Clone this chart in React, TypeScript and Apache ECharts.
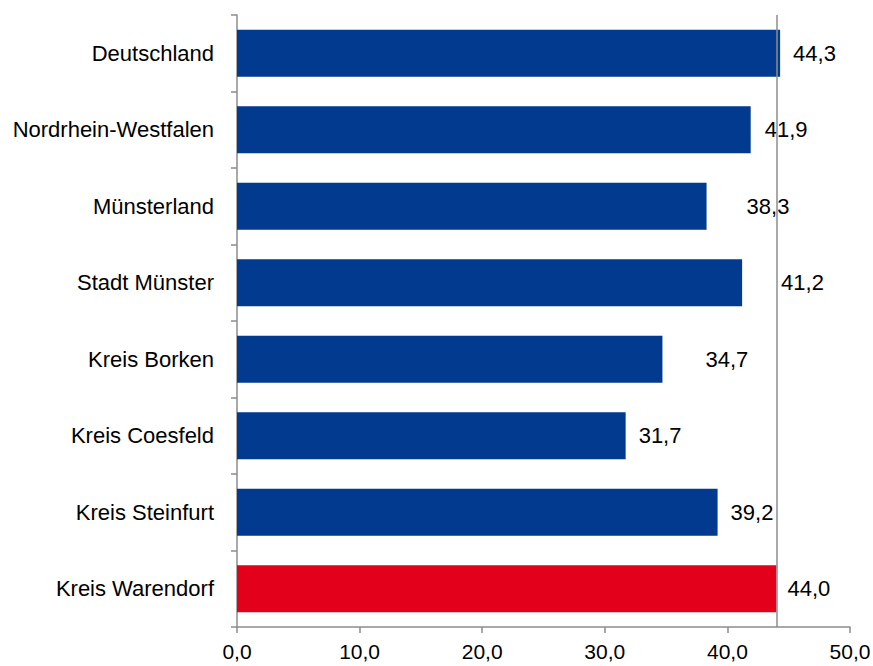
import React, { useEffect, useRef } from "react";
import * as echarts from "echarts";

const categories = [
  "Deutschland",
  "Nordrhein-Westfalen",
  "Münsterland",
  "Stadt Münster",
  "Kreis Borken",
  "Kreis Coesfeld",
  "Kreis Steinfurt",
  "Kreis Warendorf",
];
const values = [44.3, 41.9, 38.3, 41.2, 34.7, 31.7, 39.2, 44.0];
const highlight = "Kreis Warendorf";
const referenceValue = 44.0;
const xTicks = { min: 0, max: 50, interval: 10 };

// label distances (px) from the bar end, as placed in the original
const labelDistance = [13, 14, 40, 39, 43, 13, 13, 11];

const BLUE = "#013A8F";
const RED = "#E3001B";
const AXIS = "#8C8C8C";
const FONT = "'Liberation Sans', Arial, sans-serif";

const fmt = (v: number) => v.toFixed(1).replace(".", ",");

export default function App() {
  const ref = useRef<HTMLDivElement>(null);
  useEffect(() => {
    if (!ref.current) return;
    const chart = echarts.init(ref.current, null, { renderer: "svg" });
    chart.setOption({
      animation: false,
      backgroundColor: "#ffffff",
      grid: {
        left: 237,
        right: 23,
        top: 15,
        bottom: 39,
        containLabel: false,
        outerBoundsMode: "none",
      },
      xAxis: {
        type: "value",
        min: xTicks.min,
        max: xTicks.max,
        interval: xTicks.interval,
        axisLine: { show: true, lineStyle: { color: AXIS, width: 1.5 } },
        axisTick: { show: true, length: 6, lineStyle: { color: AXIS, width: 1.5 } },
        splitLine: { show: false },
        axisLabel: {
          formatter: (v: number) => fmt(v),
          color: "#000",
          fontFamily: FONT,
          fontSize: 21,
          margin: 14,
        },
      },
      yAxis: {
        type: "category",
        data: categories,
        inverse: true,
        axisLine: { show: true, lineStyle: { color: AXIS, width: 1.5 } },
        axisTick: { show: true, length: 6, lineStyle: { color: AXIS, width: 1.5 } },
        axisLabel: {
          color: "#000",
          fontFamily: FONT,
          fontSize: 22,
          margin: 23,
        },
      },
      series: [
        {
          type: "bar",
          barWidth: 47,
          data: values.map((v, i) => ({
            value: v,
            itemStyle: { color: categories[i] === highlight ? RED : BLUE },
            label: { distance: labelDistance[i] },
          })),
          label: {
            show: true,
            position: "right",
            formatter: (p: any) => fmt(p.value),
            color: "#000",
            fontFamily: FONT,
            fontSize: 22,
          },
          markLine: {
            silent: true,
            symbol: "none",
            label: { show: false },
            lineStyle: { color: AXIS, width: 1.5, type: "solid" },
            data: [{ xAxis: referenceValue }],
          },
        },
      ],
    });
    return () => chart.dispose();
  }, []);
  return (
    <div
      ref={ref}
      style={{ position: "fixed", left: 0, top: 0, width: 873, height: 666 }}
    />
  );
}
